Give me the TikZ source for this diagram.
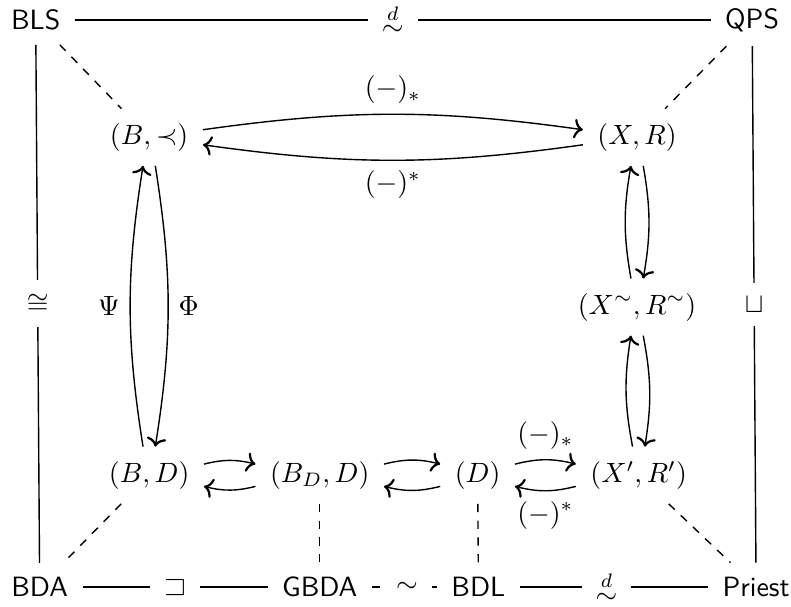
\documentclass[tikz,border=0pt]{standalone}
\usepackage{amsmath,amssymb}
\usetikzlibrary{arrows.meta}

\begin{document}
\begin{tikzpicture}[line width=0.5pt, every node/.style={inner sep=5pt}, cat/.style={font=\sffamily}, arr/.style={-{To[length=3.2pt,width=7pt,line width=0.8pt]}}, tag/.style={inner sep=3.5pt}, mid/.style={fill=white,inner sep=5pt}]
\useasboundingbox (0,0) rectangle (9.97,-7.65);
% categories round the frame
\node[cat] (bls) at (0.45,-0.25) {BLS};
\node[cat] (qps) at (9.48,-0.25) {QPS};
\node[cat] (bda) at (0.50,-7.40) {BDA};
\node[cat] (gbda) at (4.03,-7.40) {GBDA};
\node[cat] (bdl) at (6.03,-7.40) {BDL};
\node[cat] (priest) at (9.53,-7.40) {Priest};
% structures inside
\node (bp) at (1.88,-1.73) {$(B,\prec)$};
\node (xr) at (8.03,-1.73) {$(X,R)$};
\node (xt) at (8.03,-3.87) {$(X^{\sim},R^{\sim})$};
\node (bd) at (1.88,-5.99) {$(B,D)$};
\node (bdd) at (4.03,-5.99) {$(B_D,D)$};
\node (dd) at (6.02,-5.99) {$(D)$};
\node (xrp) at (8.05,-5.99) {$(X',R')$};
% frame
\draw (bls) -- node[mid]{$\overset{d}{\sim}$} (qps);
\draw (bls) -- node[mid]{$\cong$} (bda);
\draw (qps) -- node[mid]{$\sqcup$} (priest);
\draw (bda) -- node[mid]{$\sqsupset$} (gbda);
\path (gbda) -- node[pos=.54] (sim) {$\sim$} (bdl);
\draw[dashed] (gbda) -- (sim);
\draw[dashed] (bdl) -- (sim);
\draw (bdl) -- node[mid,pos=.46]{$\overset{d}{\sim}$} (priest);
\foreach \a/\b in {bls/bp,qps/xr,bd/bda,bdd/gbda,dd/bdl,xrp/priest}{\draw[dashed] (\a)--(\b);}
% dualities
\draw[arr] ([yshift=2.7pt]bp.east) to[bend left=8] node[tag,above]{$(-)_*$} ([yshift=2.7pt]xr.west);
\draw[arr] ([yshift=-2.7pt]xr.west) to[bend left=8] node[tag,below]{$(-)^*$} ([yshift=-2.7pt]bp.east);
\draw[arr] ([xshift=2.2pt]bp.south) to[bend left=9] node[tag,right]{$\Phi$} ([xshift=2.2pt]bd.north);
\draw[arr] ([xshift=-2.2pt]bd.north) to[bend left=9] node[tag,left]{$\Psi$} ([xshift=-2.2pt]bp.south);
\foreach \a/\b in {xr/xt,xt/xrp}{
  \draw[arr] ([xshift=2.2pt]\a.south) to[bend left=10] ([xshift=2.2pt]\b.north);
  \draw[arr] ([xshift=-2.2pt]\b.north) to[bend left=10] ([xshift=-2.2pt]\a.south);}
\foreach \a/\b in {bd/bdd,bdd/dd}{
  \draw[arr] ([yshift=4pt]\a.east) to[bend left=14] ([yshift=4pt]\b.west);
  \draw[arr] ([yshift=-4pt]\b.west) to[bend left=14] ([yshift=-4pt]\a.east);}
\draw[arr] ([yshift=4pt]dd.east) to[bend left=14] node[tag,above]{$(-)_*$} ([yshift=4pt]xrp.west);
\draw[arr] ([yshift=-4pt]xrp.west) to[bend left=14] node[tag,below]{$(-)^*$} ([yshift=-4pt]dd.east);
\end{tikzpicture}
\end{document}
